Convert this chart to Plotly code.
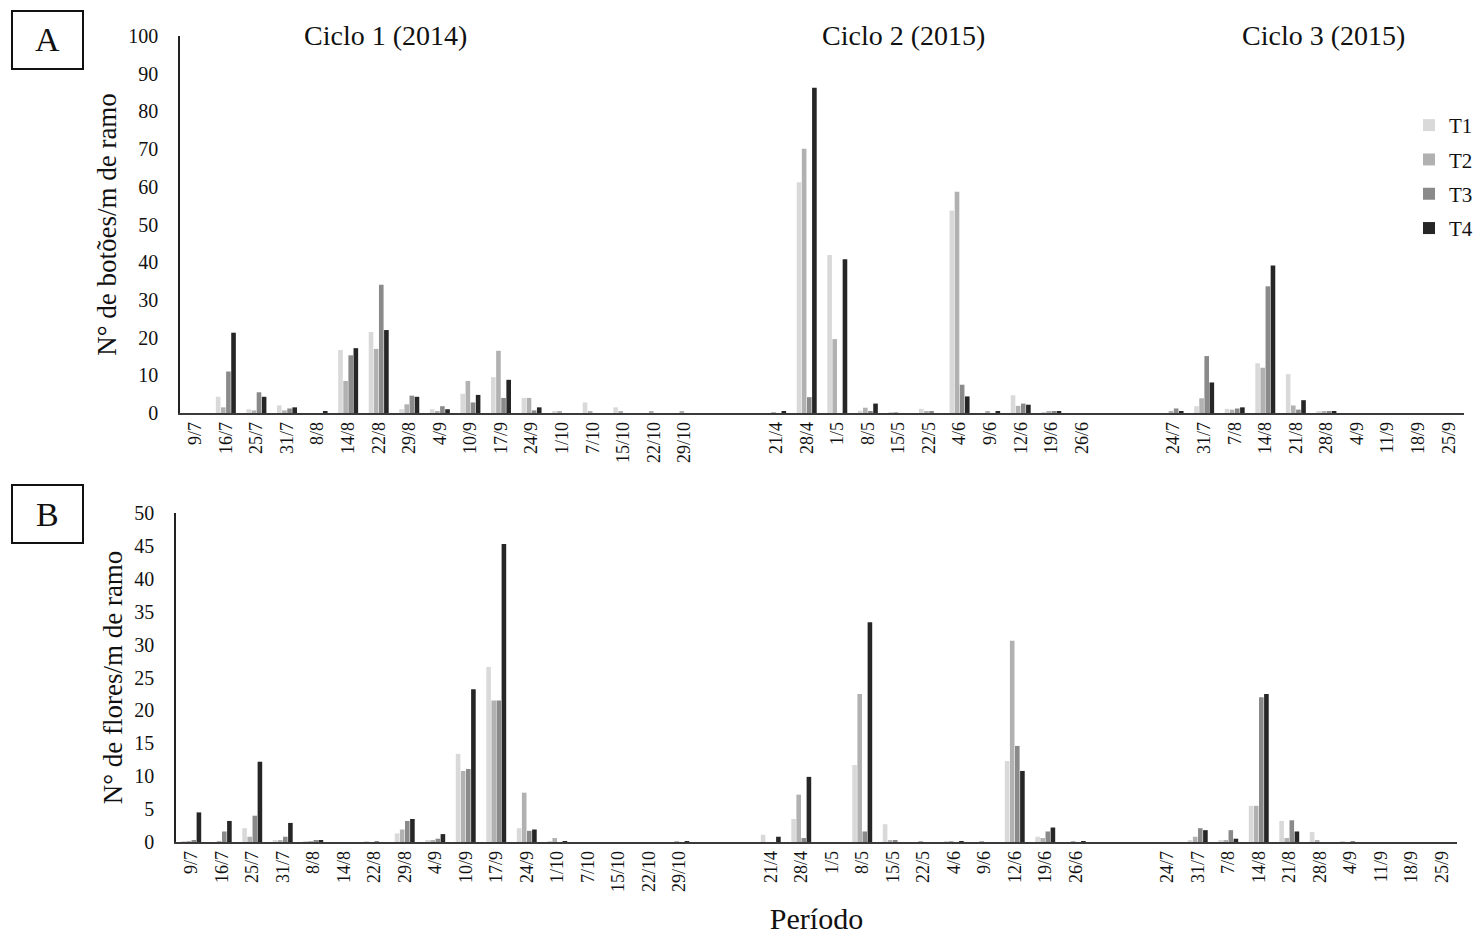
import plotly.graph_objects as go

# ---------------- data ----------------
dates_c1 = ["9/7","16/7","25/7","31/7","8/8","14/8","22/8","29/8","4/9","10/9","17/9","24/9","1/10","7/10","15/10","22/10","29/10"]
dates_c2 = ["21/4","28/4","1/5","8/5","15/5","22/5","4/6","9/6","12/6","19/6","26/6"]
dates_c3 = ["24/7","31/7","7/8","14/8","21/8","28/8","4/9","11/9","18/9","25/9"]
cycle_titles = ["Ciclo 1 (2014)", "Ciclo 2 (2015)", "Ciclo 3 (2015)"]
series_names = ["T1", "T2", "T3", "T4"]

# Panel A: buds per m of branch
A_T1 = [0, 4.3, 1.0, 2.0, 0, 16.7, 21.5, 1.0, 1.0, 5.1, 9.5, 4.0, 0.3, 2.8, 1.5, 0, 0,
        0, 61.2, 41.9, 0.6, 0.2, 1.1, 53.7, 0, 4.7, 0.2, 0,
        0, 1.8, 1.1, 13.2, 10.3, 0.4, 0, 0, 0, 0]
A_T2 = [0, 1.5, 0.7, 0.7, 0, 8.5, 17.0, 2.3, 0.3, 8.5, 16.5, 4.0, 0.3, 0.4, 0.4, 0.3, 0.3,
        0.1, 70.1, 19.6, 1.4, 0.1, 0.3, 58.7, 0.3, 1.9, 0.3, 0,
        0.5, 3.9, 0.9, 12.0, 2.0, 0.3, 0, 0, 0, 0]
A_T3 = [0, 11.0, 5.5, 1.2, 0, 15.3, 34.0, 4.6, 1.8, 2.8, 4.0, 0.7, 0, 0, 0, 0, 0,
        0, 4.2, 0, 0.3, 0, 0.3, 7.5, 0, 2.5, 0.3, 0,
        1.2, 15.1, 1.2, 33.6, 0.9, 0.3, 0, 0, 0, 0]
A_T4 = [0, 21.3, 4.3, 1.5, 0.3, 17.2, 22.0, 4.3, 1.0, 4.8, 8.8, 1.5, 0, 0, 0, 0, 0,
        0.3, 86.3, 40.8, 2.5, 0, 0, 4.4, 0.3, 2.2, 0.3, 0,
        0.3, 8.1, 1.5, 39.1, 3.4, 0.3, 0, 0, 0, 0]

# Panel B: flowers per m of branch
B_T1 = [0.1, 0, 2.1, 0.3, 0.1, 0, 0.1, 1.3, 0.3, 13.4, 26.6, 2.1, 0.1, 0, 0, 0, 0,
        1.1, 3.5, 0, 11.7, 2.7, 0, 0.1, 0, 12.3, 0.8, 0,
        0, 0.3, 0.3, 5.5, 3.2, 1.5, 0.1, 0, 0, 0]
B_T2 = [0.1, 0.1, 0.8, 0.2, 0.1, 0, 0, 1.9, 0.2, 10.8, 21.5, 7.5, 0.6, 0, 0, 0, 0.1,
        0, 7.2, 0, 22.5, 0.3, 0.1, 0.1, 0.1, 30.6, 0.6, 0.1,
        0, 0.8, 0.3, 5.5, 0.6, 0.3, 0, 0, 0, 0]
B_T3 = [0.3, 1.6, 4.0, 0.8, 0.3, 0, 0.1, 3.2, 0.5, 11.1, 21.5, 1.7, 0, 0, 0, 0, 0,
        0, 0.6, 0, 1.6, 0.2, 0, 0, 0, 14.6, 1.6, 0,
        0, 2.1, 1.8, 22.0, 3.3, 0, 0.1, 0, 0, 0]
B_T4 = [4.5, 3.2, 12.2, 2.9, 0.3, 0, 0, 3.5, 1.2, 23.2, 45.3, 1.9, 0.1, 0, 0, 0, 0.1,
        0.8, 9.9, 0, 33.4, 0, 0, 0.1, 0, 10.8, 2.2, 0.1,
        0, 1.8, 0.5, 22.5, 1.6, 0, 0, 0, 0, 0]

# ---------------- positions (category index with two empty slots between cycles) ----------------
GAP = 2
cycles = [dates_c1, dates_c2, dates_c3]
xpos, labels = [], []
start = 0
for c in cycles:
    xpos += list(range(start, start + len(c)))
    labels += c
    start += len(c) + GAP
n_slots = start - GAP

colors = ["#d9d9d9", "#b1b1b1", "#8a8a8a", "#262626"]
FONT = "Liberation Serif, Times New Roman, serif"
W, H = 1475, 935

fig = go.Figure()
for name, vals, col in zip(series_names, [A_T1, A_T2, A_T3, A_T4], colors):
    fig.add_trace(go.Bar(x=xpos, y=vals, name=name, marker=dict(color=col, line=dict(width=0)),
                         xaxis="x", yaxis="y", legendgroup=name, showlegend=True))
for name, vals, col in zip(series_names, [B_T1, B_T2, B_T3, B_T4], colors):
    fig.add_trace(go.Bar(x=xpos, y=vals, name=name, marker=dict(color=col, line=dict(width=0)),
                         xaxis="x2", yaxis="y2", legendgroup=name, showlegend=False))

def px_x(p):
    return p / W

def px_y(p):
    return 1 - p / H

common_x = dict(tickmode="array", tickvals=xpos, ticktext=labels, tickangle=-90,
                range=[-0.5, n_slots - 0.5], showgrid=False, zeroline=False, automargin=False,
                showline=True, linecolor="#3a3a3a", linewidth=1.5, ticks="",
                tickfont=dict(family=FONT, size=18, color="#111"))
common_y = dict(showgrid=False, zeroline=False, showline=True, linecolor="#222", linewidth=1.5,
                automargin=False, ticks="", tickfont=dict(family=FONT, size=20, color="#111"),
                ticklabelstandoff=16)

fig.update_layout(
    width=W, height=H,
    margin=dict(l=0, r=0, t=0, b=0, autoexpand=False),
    paper_bgcolor="white", plot_bgcolor="white",
    barmode="group", bargap=0.33, bargroupgap=0.1,
    font=dict(family=FONT, color="#111"),
    xaxis=dict(domain=[px_x(180), px_x(1464)], anchor="y", **common_x),
    yaxis=dict(domain=[px_y(413), px_y(36)], range=[0, 100], dtick=10, anchor="x",
               title=dict(text="N° de botões/m de ramo", font=dict(family=FONT, size=27), standoff=4),
               **common_y),
    xaxis2=dict(domain=[px_x(176), px_x(1457)], anchor="y2",
                title=dict(text="Período", font=dict(family=FONT, size=30), standoff=22),
                **common_x),
    yaxis2=dict(domain=[px_y(842), px_y(513)], range=[0, 50], dtick=5, anchor="x2",
                title=dict(text="N° de flores/m de ramo", font=dict(family=FONT, size=27), standoff=4),
                **common_y),
    legend=dict(x=px_x(1409), y=px_y(105), xanchor="left", yanchor="top",
                font=dict(family=FONT, size=21, color="#111"), tracegroupgap=4,
                bgcolor="rgba(0,0,0,0)", itemwidth=30),
)

# cycle titles
for t, cxp in zip(cycle_titles, [385, 903, 1323]):
    fig.add_annotation(x=px_x(cxp), y=px_y(36), xref="paper", yref="paper", text=t, showarrow=False,
                       font=dict(family=FONT, size=28, color="#111"), xanchor="center", yanchor="middle")

# panel letters in boxes
for letter, (y0, y1) in zip(["A", "B"], [(11, 69), (485, 543)]):
    fig.add_shape(type="rect", xref="paper", yref="paper", x0=px_x(12), x1=px_x(83),
                  y0=px_y(y1), y1=px_y(y0), line=dict(color="#111", width=2), fillcolor="rgba(0,0,0,0)")
    fig.add_annotation(x=px_x(47.5), y=px_y((y0 + y1) / 2), xref="paper", yref="paper", text=letter,
                       showarrow=False, font=dict(family=FONT, size=34, color="#111"),
                       xanchor="center", yanchor="middle")

fig.write_html("out.html", config={"displayModeBar": False},
               post_script="document.body.style.margin='0';document.body.style.padding='0';")
